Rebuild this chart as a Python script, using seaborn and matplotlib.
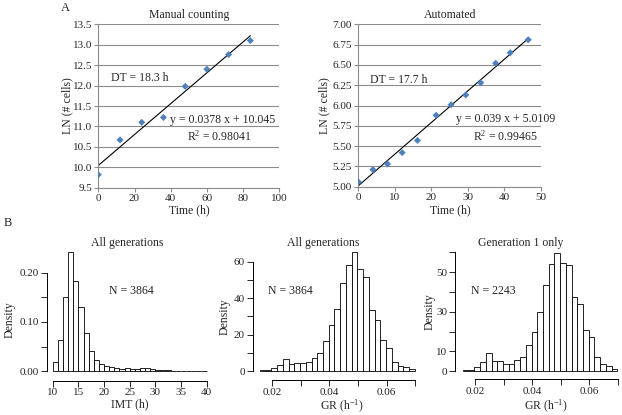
import numpy as np
import pandas as pd
import matplotlib
matplotlib.use('Agg')
import matplotlib.pyplot as plt
import seaborn as sns

# ---- Panel A: growth curves ----
manual_time = [0, 12, 24, 36, 48, 60, 72, 84]
manual_ln = [9.82, 10.67, 11.10, 11.22, 11.98, 12.40, 12.76, 13.10]
manual_fit = (0.0378, 10.045)

auto_time = [0, 4, 8, 12, 16.2, 21.3, 25.4, 29.4, 33.5, 37.6, 41.6, 46.5]
auto_ln = [5.06, 5.21, 5.28, 5.42, 5.57, 5.88, 6.01, 6.13, 6.28, 6.52, 6.65, 6.81]
auto_fit = (0.039, 5.0109)

# ---- Panel B: histogram densities ----
imt_edges = np.arange(10, 41)
imt_density = [0.018, 0.064, 0.150, 0.241, 0.183, 0.130, 0.078, 0.041, 0.022, 0.015,
               0.0115, 0.009, 0.0068, 0.0054, 0.006, 0.0054, 0.0054, 0.0068, 0.006, 0.0047,
               0.0034, 0.0027, 0.002, 0.0014, 0.0014, 0.0007, 0.0007, 0.0014, 0.0007, 0.0014]

gr_start, gr_width = 0.0158, 0.002
gr_all_density = [0.5, 0.6, 1.8, 3.3, 6.6, 3.8, 4.4, 4.6, 5.3, 7.5, 9.9, 16.6, 25.2, 33.9,
                  48.5, 58.2, 65.1, 56.0, 51.5, 33.4, 28.1, 17.2, 13.0, 5.3, 2.9, 2.4, 1.1]
gr_gen1_density = [0.7, 0.7, 2.4, 4.7, 9.1, 5.4, 5.4, 3.9, 3.9, 5.7, 7.1, 13.4, 20.0, 30.1,
                   43.4, 53.9, 59.8, 54.8, 53.6, 37.6, 33.8, 20.8, 17.1, 7.1, 3.7, 2.9, 1.3]
gr_edges = np.round(gr_start + gr_width * np.arange(len(gr_all_density) + 1), 4)

EXCEL_BLUE = '#4F81BD'
GRID_GREY = '#8c8c8c'

sns.set_style('ticks')
plt.rcParams['font.family'] = ['Liberation Serif', 'DejaVu Serif']
plt.rcParams['mathtext.fontset'] = 'custom'
plt.rcParams['mathtext.rm'] = 'Liberation Serif'
plt.rcParams['mathtext.it'] = 'Liberation Serif:italic'

W, H = 622, 415
fig = plt.figure(figsize=(W / 100, H / 100), dpi=100)


def px_axes(l, t, r, b):
    return fig.add_axes([l / W, 1 - b / H, (r - l) / W, (b - t) / H])


def px_text(x, y, s, **kw):
    kw.setdefault('fontsize', 8.5)
    kw.setdefault('ha', 'center')
    kw.setdefault('va', 'center')
    fig.text(x / W, 1 - y / H, s, **kw)


def growth_panel(ax, t, ln, fit, xmax, xstep, ylim, ystep, yfmt):
    sns.scatterplot(x=t, y=ln, marker='D', s=13, color=EXCEL_BLUE,
                    edgecolor='none', ax=ax, zorder=3)
    line_x = np.array([0, max(t)])
    sns.lineplot(x=line_x, y=fit[0] * line_x + fit[1], color='black',
                 linewidth=0.8, ax=ax, zorder=2)
    ax.set_xlim(0, xmax)
    ax.set_ylim(*ylim)
    ax.set_xticks(np.arange(0, xmax + xstep / 2, xstep))
    yt = np.arange(ylim[0], ylim[1] + ystep / 2, ystep)
    ax.set_yticks(yt)
    ax.set_yticklabels([yfmt.format(v) for v in yt])
    ax.yaxis.grid(True, color=GRID_GREY, linewidth=0.8)
    ax.xaxis.grid(False)
    for side in ['top', 'right']:
        ax.spines[side].set_visible(False)
    for side in ['left', 'bottom']:
        ax.spines[side].set_color(GRID_GREY)
        ax.spines[side].set_linewidth(0.8)
    ax.tick_params(direction='out', length=3, width=0.8, color=GRID_GREY,
                   labelsize=8, pad=1.5)
    ax.set_xlabel('')
    ax.set_ylabel('')


def hist_panel(ax, edges, dens, xlim, ylim, xticks, xlabels, yticks, ylabels):
    mids = (edges[:-1] + edges[1:]) / 2
    df = pd.DataFrame({'value': mids, 'density': dens})
    sns.histplot(data=df, x='value', weights='density', bins=list(edges), stat='count',
                 color='white', edgecolor='black', linewidth=0.6, alpha=1, ax=ax)
    ax.set_xlim(*xlim)
    ax.set_ylim(*ylim)
    ax.set_xticks(xticks)
    ax.set_yticks(yticks)
    sns.despine(ax=ax, trim=True)
    ax.set_xticks(xticks)
    ax.set_xticklabels(xlabels)
    ax.set_yticks(yticks)
    ax.set_yticklabels(ylabels)
    for side in ['left', 'bottom']:
        ax.spines[side].set_linewidth(0.7)
        ax.spines[side].set_color('black')
    ax.tick_params(direction='out', length=4, width=0.7, labelsize=8, pad=1.5)
    ax.set_xlabel('')
    ax.set_ylabel('')


# ---- A: manual counting ----
ax1 = px_axes(98.3, 24.3, 279.3, 187.7)
growth_panel(ax1, manual_time, manual_ln, manual_fit, 100, 20, (9.5, 13.5), 0.5, '{:.1f}')
ax1.text(7, 12.19, 'DT = 18.3 h', fontsize=8.5, va='center')
ax1.text(39.7, 11.16, 'y = 0.0378 x + 10.045', fontsize=8.5, va='center')
ax1.text(49, 10.75, 'R$^2$ = 0.98041', fontsize=8.5, va='center')
px_text(189, 15, 'Manual counting')
px_text(67, 106, 'LN (# cells)', rotation=90)
px_text(189, 210, 'Time (h)')
px_text(65, 8, 'A', fontsize=9)

# ---- A: automated ----
ax2 = px_axes(358.3, 24.3, 541, 186.7)
growth_panel(ax2, auto_time, auto_ln, auto_fit, 50, 10, (5.0, 7.0), 0.25, '{:.2f}')
ax2.text(3.3, 6.31, 'DT = 17.7 h', fontsize=8.5, va='center')
ax2.text(26.7, 5.83, 'y = 0.039 x + 5.0109', fontsize=8.5, va='center')
ax2.text(31.5, 5.62, 'R$^2$ = 0.99465', fontsize=8.5, va='center')
px_text(450, 15, 'Automated')
px_text(324, 106, 'LN (# cells)', rotation=90)
px_text(450, 210, 'Time (h)')

# ---- B: IMT histogram ----
ax3 = px_axes(46.7, 245, 212.7, 380.7)
hist_panel(ax3, imt_edges, imt_density, (8.8, 41.2), (-0.019, 0.256),
           np.arange(10, 41, 5), [str(v) for v in range(10, 41, 5)],
           [0, 0.05, 0.10, 0.15, 0.20], ['0.00', '', '0.10', '', '0.20'])
ax3.text(25.4, 0.163, 'N = 3864', fontsize=8.5, ha='center', va='center')
px_text(127, 243, 'All generations')
px_text(129.7, 404, 'IMT (h)')
px_text(9.5, 320, 'Density', rotation=90)
px_text(8, 223, 'B', fontsize=9)

gr_xticks = [0.02, 0.03, 0.04, 0.05, 0.06, 0.07]
gr_xlabels = ['0.02', '', '0.04', '', '0.06', '']

# ---- B: GR all generations ----
ax4 = px_axes(252.7, 245, 421, 380)
hist_panel(ax4, gr_edges, gr_all_density, (0.01327, 0.0720), (-4.76, 69.1),
           gr_xticks, gr_xlabels,
           np.arange(0, 61, 10), ['0', '', '20', '', '40', '', '60'])
ax4.text(0.02628, 44, 'N = 3864', fontsize=8.5, ha='center', va='center')
px_text(323.3, 243, 'All generations')
px_text(342, 406, 'GR (h$^{-1}$)')
px_text(225, 317, 'Density', rotation=90)

# ---- B: GR generation 1 only ----
ax5 = px_axes(455, 245, 621, 379.3)
hist_panel(ax5, gr_edges, gr_gen1_density, (0.01302, 0.0711), (-4.03, 63.7),
           gr_xticks, gr_xlabels,
           np.arange(0, 61, 10), ['0', '10', '', '30', '', '50', ''])
ax5.text(0.02652, 40.5, 'N = 2243', fontsize=8.5, ha='center', va='center')
px_text(520.3, 243, 'Generation 1 only')
px_text(546, 406, 'GR (h$^{-1}$)')
px_text(430, 311.7, 'Density', rotation=90)

fig.savefig('out.png', dpi=100)
